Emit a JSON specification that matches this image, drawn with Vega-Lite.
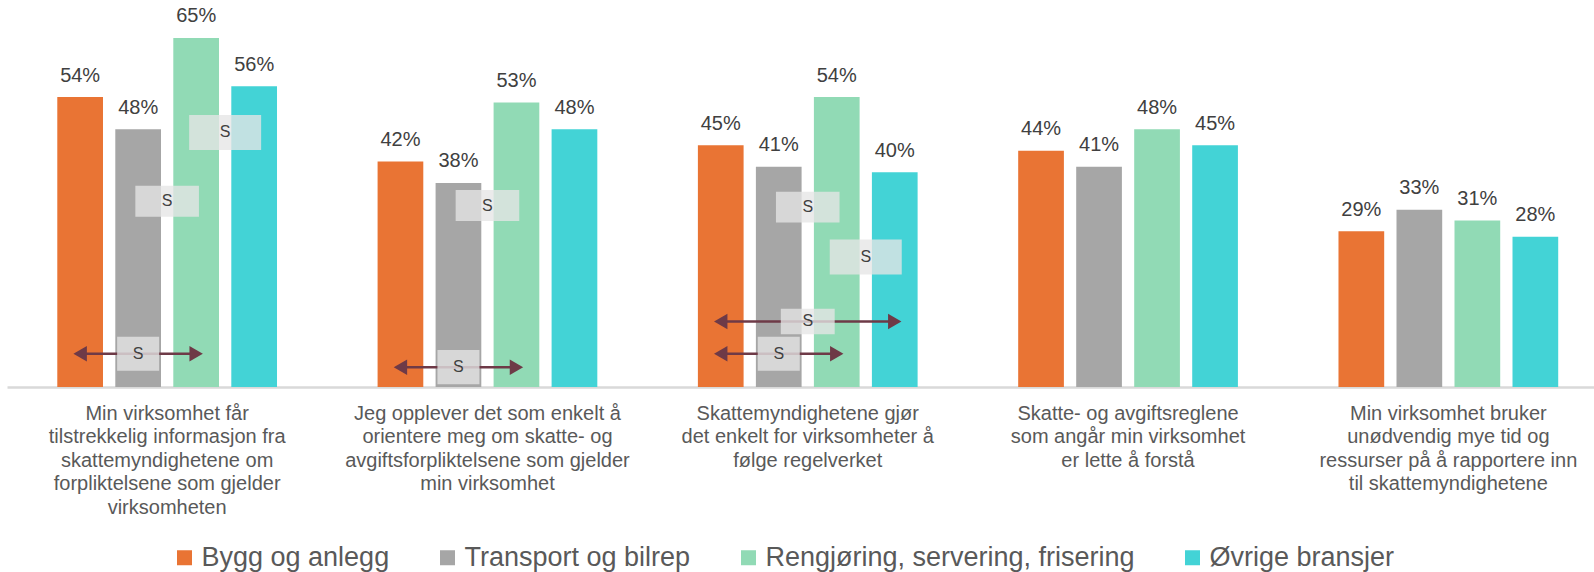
{
  "$schema": "https://vega.github.io/schema/vega-lite/v6.json",
  "autosize": {"type": "none"},
  "width": 1587,
  "height": 387,
  "padding": {"left": 7, "top": 0, "right": 0, "bottom": 185},
  "background": "white",
  "config": {
    "view": {"stroke": null},
    "font": "Liberation Sans",
    "text": {"font": "Liberation Sans"}
  },
  "datasets": {
    "bars": [
      {"q": "Min virksomhet får|tilstrekkelig informasjon fra|skattemyndighetene om|forpliktelsene som gjelder|virksomheten", "series": "Bygg og anlegg", "value": 0.54},
      {"q": "Min virksomhet får|tilstrekkelig informasjon fra|skattemyndighetene om|forpliktelsene som gjelder|virksomheten", "series": "Transport og bilrep", "value": 0.48},
      {"q": "Min virksomhet får|tilstrekkelig informasjon fra|skattemyndighetene om|forpliktelsene som gjelder|virksomheten", "series": "Rengjøring, servering, frisering", "value": 0.65},
      {"q": "Min virksomhet får|tilstrekkelig informasjon fra|skattemyndighetene om|forpliktelsene som gjelder|virksomheten", "series": "Øvrige bransjer", "value": 0.56},
      {"q": "Jeg opplever det som enkelt å|orientere meg om skatte- og|avgiftsforpliktelsene som gjelder|min virksomhet", "series": "Bygg og anlegg", "value": 0.42},
      {"q": "Jeg opplever det som enkelt å|orientere meg om skatte- og|avgiftsforpliktelsene som gjelder|min virksomhet", "series": "Transport og bilrep", "value": 0.38},
      {"q": "Jeg opplever det som enkelt å|orientere meg om skatte- og|avgiftsforpliktelsene som gjelder|min virksomhet", "series": "Rengjøring, servering, frisering", "value": 0.53},
      {"q": "Jeg opplever det som enkelt å|orientere meg om skatte- og|avgiftsforpliktelsene som gjelder|min virksomhet", "series": "Øvrige bransjer", "value": 0.48},
      {"q": "Skattemyndighetene gjør|det enkelt for virksomheter å|følge regelverket", "series": "Bygg og anlegg", "value": 0.45},
      {"q": "Skattemyndighetene gjør|det enkelt for virksomheter å|følge regelverket", "series": "Transport og bilrep", "value": 0.41},
      {"q": "Skattemyndighetene gjør|det enkelt for virksomheter å|følge regelverket", "series": "Rengjøring, servering, frisering", "value": 0.54},
      {"q": "Skattemyndighetene gjør|det enkelt for virksomheter å|følge regelverket", "series": "Øvrige bransjer", "value": 0.40},
      {"q": "Skatte- og avgiftsreglene|som angår min virksomhet|er lette å forstå", "series": "Bygg og anlegg", "value": 0.44},
      {"q": "Skatte- og avgiftsreglene|som angår min virksomhet|er lette å forstå", "series": "Transport og bilrep", "value": 0.41},
      {"q": "Skatte- og avgiftsreglene|som angår min virksomhet|er lette å forstå", "series": "Rengjøring, servering, frisering", "value": 0.48},
      {"q": "Skatte- og avgiftsreglene|som angår min virksomhet|er lette å forstå", "series": "Øvrige bransjer", "value": 0.45},
      {"q": "Min virksomhet bruker|unødvendig mye tid og|ressurser på å rapportere inn|til skattemyndighetene", "series": "Bygg og anlegg", "value": 0.29},
      {"q": "Min virksomhet bruker|unødvendig mye tid og|ressurser på å rapportere inn|til skattemyndighetene", "series": "Transport og bilrep", "value": 0.33},
      {"q": "Min virksomhet bruker|unødvendig mye tid og|ressurser på å rapportere inn|til skattemyndighetene", "series": "Rengjøring, servering, frisering", "value": 0.31},
      {"q": "Min virksomhet bruker|unødvendig mye tid og|ressurser på å rapportere inn|til skattemyndighetene", "series": "Øvrige bransjer", "value": 0.28}
    ],
    "arrows": [
      {"q": "Min virksomhet får|tilstrekkelig informasjon fra|skattemyndighetene om|forpliktelsene som gjelder|virksomheten", "id": "a1", "slot": "Bygg og anlegg", "y": 0.062, "end": "left"},
      {"q": "Min virksomhet får|tilstrekkelig informasjon fra|skattemyndighetene om|forpliktelsene som gjelder|virksomheten", "id": "a1", "slot": "Rengjøring, servering, frisering", "y": 0.062, "end": "right"},
      {"q": "Jeg opplever det som enkelt å|orientere meg om skatte- og|avgiftsforpliktelsene som gjelder|min virksomhet", "id": "a2", "slot": "Bygg og anlegg", "y": 0.037, "end": "left"},
      {"q": "Jeg opplever det som enkelt å|orientere meg om skatte- og|avgiftsforpliktelsene som gjelder|min virksomhet", "id": "a2", "slot": "Rengjøring, servering, frisering", "y": 0.037, "end": "right"},
      {"q": "Skattemyndighetene gjør|det enkelt for virksomheter å|følge regelverket", "id": "a3", "slot": "Bygg og anlegg", "y": 0.122, "end": "left"},
      {"q": "Skattemyndighetene gjør|det enkelt for virksomheter å|følge regelverket", "id": "a3", "slot": "Øvrige bransjer", "y": 0.122, "end": "right"},
      {"q": "Skattemyndighetene gjør|det enkelt for virksomheter å|følge regelverket", "id": "a4", "slot": "Bygg og anlegg", "y": 0.062, "end": "left"},
      {"q": "Skattemyndighetene gjør|det enkelt for virksomheter å|følge regelverket", "id": "a4", "slot": "Rengjøring, servering, frisering", "y": 0.062, "end": "right"}
    ],
    "boxes": [
      {"q": "Min virksomhet får|tilstrekkelig informasjon fra|skattemyndighetene om|forpliktelsene som gjelder|virksomheten", "slot": "Transport og bilrep | Rengjøring, servering, frisering", "y": 0.346, "comparison": "Transport–Rengjøring"},
      {"q": "Min virksomhet får|tilstrekkelig informasjon fra|skattemyndighetene om|forpliktelsene som gjelder|virksomheten", "slot": "Rengjøring, servering, frisering | Øvrige bransjer", "y": 0.474, "comparison": "Rengjøring–Øvrige"},
      {"q": "Min virksomhet får|tilstrekkelig informasjon fra|skattemyndighetene om|forpliktelsene som gjelder|virksomheten", "slot": "Transport og bilrep", "y": 0.062, "comparison": "Bygg–Rengjøring"},
      {"q": "Jeg opplever det som enkelt å|orientere meg om skatte- og|avgiftsforpliktelsene som gjelder|min virksomhet", "slot": "Transport og bilrep | Rengjøring, servering, frisering", "y": 0.338, "comparison": "Transport–Rengjøring"},
      {"q": "Jeg opplever det som enkelt å|orientere meg om skatte- og|avgiftsforpliktelsene som gjelder|min virksomhet", "slot": "Transport og bilrep", "y": 0.037, "comparison": "Bygg–Rengjøring"},
      {"q": "Skattemyndighetene gjør|det enkelt for virksomheter å|følge regelverket", "slot": "Transport og bilrep | Rengjøring, servering, frisering", "y": 0.335, "comparison": "Transport–Rengjøring"},
      {"q": "Skattemyndighetene gjør|det enkelt for virksomheter å|følge regelverket", "slot": "Rengjøring, servering, frisering | Øvrige bransjer", "y": 0.242, "comparison": "Rengjøring–Øvrige"},
      {"q": "Skattemyndighetene gjør|det enkelt for virksomheter å|følge regelverket", "slot": "Transport og bilrep | Rengjøring, servering, frisering", "y": 0.122, "comparison": "Bygg–Øvrige"},
      {"q": "Skattemyndighetene gjør|det enkelt for virksomheter å|følge regelverket", "slot": "Transport og bilrep", "y": 0.062, "comparison": "Bygg–Rengjøring"}
    ]
  },
  "encoding": {
    "x": {
      "field": "q",
      "type": "nominal",
      "title": null,
      "scale": {
        "domain": [
          "Min virksomhet får|tilstrekkelig informasjon fra|skattemyndighetene om|forpliktelsene som gjelder|virksomheten",
          "Jeg opplever det som enkelt å|orientere meg om skatte- og|avgiftsforpliktelsene som gjelder|min virksomhet",
          "Skattemyndighetene gjør|det enkelt for virksomheter å|følge regelverket",
          "Skatte- og avgiftsreglene|som angår min virksomhet|er lette å forstå",
          "Min virksomhet bruker|unødvendig mye tid og|ressurser på å rapportere inn|til skattemyndighetene"
        ],
        "range": [0, 1601.5],
        "paddingInner": 0.314,
        "paddingOuter": 0.157
      },
      "axis": {
        "labelExpr": "split(datum.label, '|')",
        "labelFontSize": 20,
        "labelFont": "Liberation Sans",
        "labelColor": "#595959",
        "labelLineHeight": 23.4,
        "labelAngle": 0,
        "labelAlign": "center",
        "labelBaseline": "top",
        "labelPadding": 16.5,
        "labelLimit": 0,
        "ticks": false,
        "tickSize": 0,
        "domainColor": "#D9D9D9",
        "domainWidth": 2.3,
        "grid": false
      }
    },
    "y": {
      "field": "value",
      "type": "quantitative",
      "scale": {"domain": [0, 0.7207], "nice": false, "zero": true},
      "axis": null
    }
  },
  "layer": [
    {
      "data": {"name": "bars"},
      "mark": {"type": "bar"},
      "encoding": {
        "xOffset": {
          "field": "series",
          "type": "nominal",
          "scale": {
            "domain": ["Bygg og anlegg", "Transport og bilrep", "Rengjøring, servering, frisering", "Øvrige bransjer"],
            "paddingInner": 0.212,
            "paddingOuter": 0
          }
        },
        "color": {
          "field": "series",
          "type": "nominal",
          "scale": {
            "domain": ["Bygg og anlegg", "Transport og bilrep", "Rengjøring, servering, frisering", "Øvrige bransjer"],
            "range": ["#E97434", "#A6A6A6", "#91DAB5", "#43D3D6"]
          },
          "legend": {
            "title": null,
            "orient": "none",
            "direction": "horizontal",
            "legendX": 164,
            "legendY": 544,
            "labelFontSize": 27,
            "labelFont": "Liberation Sans",
            "labelColor": "#595959",
            "labelOffset": 3.5,
            "labelLimit": 1000,
            "columnPadding": 44,
            "symbolType": "square",
            "symbolSize": 225,
            "symbolStrokeWidth": 0,
            "symbolOpacity": 1
          }
        }
      }
    },
    {
      "data": {"name": "bars"},
      "mark": {"type": "text", "fontSize": 20, "color": "#404040", "baseline": "alphabetic", "align": "center", "dy": -15.5, "font": "Liberation Sans"},
      "encoding": {
        "xOffset": {
          "field": "series",
          "type": "nominal",
          "scale": {
            "type": "point",
            "domain": ["Bygg og anlegg", "Transport og bilrep", "Rengjøring, servering, frisering", "Øvrige bransjer"],
            "padding": 0.394
          }
        },
        "text": {"field": "value", "type": "quantitative", "format": ".0%"}
      }
    },
    {
      "data": {"name": "arrows"},
      "mark": {"type": "line", "color": "#6E3A47", "strokeWidth": 2.5},
      "encoding": {
        "xOffset": {
          "field": "slot",
          "type": "nominal",
          "scale": {
            "type": "point",
            "domain": ["Bygg og anlegg", "Bygg og anlegg | Transport og bilrep", "Transport og bilrep", "Transport og bilrep | Rengjøring, servering, frisering", "Rengjøring, servering, frisering", "Rengjøring, servering, frisering | Øvrige bransjer", "Øvrige bransjer"],
            "padding": 0.788
          }
        },
        "y": {"field": "y", "type": "quantitative"},
        "detail": {"field": "id", "type": "nominal"}
      }
    },
    {
      "data": {"name": "arrows"},
      "mark": {"type": "point", "filled": true, "color": "#6E3A47", "opacity": 1, "size": 240},
      "encoding": {
        "xOffset": {
          "field": "slot",
          "type": "nominal",
          "scale": {
            "type": "point",
            "domain": ["Bygg og anlegg", "Bygg og anlegg | Transport og bilrep", "Transport og bilrep", "Transport og bilrep | Rengjøring, servering, frisering", "Rengjøring, servering, frisering", "Rengjøring, servering, frisering | Øvrige bransjer", "Øvrige bransjer"],
            "padding": 0.788
          }
        },
        "y": {"field": "y", "type": "quantitative"},
        "shape": {
          "field": "end",
          "type": "nominal",
          "scale": {"domain": ["left", "right"], "range": ["triangle-left", "triangle-right"]},
          "legend": null
        }
      }
    },
    {
      "data": {"name": "boxes"},
      "mark": {"type": "point", "filled": true, "color": "#E5E5E5", "opacity": 0.78, "strokeWidth": 0},
      "encoding": {
        "xOffset": {
          "field": "slot",
          "type": "nominal",
          "scale": {
            "type": "point",
            "domain": ["Bygg og anlegg", "Bygg og anlegg | Transport og bilrep", "Transport og bilrep", "Transport og bilrep | Rengjøring, servering, frisering", "Rengjøring, servering, frisering", "Rengjøring, servering, frisering | Øvrige bransjer", "Øvrige bransjer"],
            "padding": 0.788
          }
        },
        "y": {"field": "y", "type": "quantitative"},
        "shape": {
          "field": "comparison",
          "type": "nominal",
          "scale": {
            "domain": ["Bygg–Rengjøring", "Bygg–Øvrige", "Transport–Rengjøring", "Rengjøring–Øvrige"],
            "range": ["M-1,-0.81H1V0.81H-1Z", "M-1,-0.472H1V0.472H-1Z", "M-1,-0.486H1V0.486H-1Z", "M-1,-0.486H1V0.486H-1Z"]
          },
          "legend": null
        },
        "size": {
          "field": "comparison",
          "type": "nominal",
          "scale": {
            "domain": ["Bygg–Rengjøring", "Bygg–Øvrige", "Transport–Rengjøring", "Rengjøring–Øvrige"],
            "range": [1764, 5184, 4900, 4900]
          },
          "legend": null
        }
      }
    },
    {
      "data": {"name": "boxes"},
      "mark": {"type": "text", "text": "S", "fontSize": 16, "color": "#404040", "baseline": "middle", "align": "center", "font": "Liberation Sans"},
      "encoding": {
        "xOffset": {
          "field": "slot",
          "type": "nominal",
          "scale": {
            "type": "point",
            "domain": ["Bygg og anlegg", "Bygg og anlegg | Transport og bilrep", "Transport og bilrep", "Transport og bilrep | Rengjøring, servering, frisering", "Rengjøring, servering, frisering", "Rengjøring, servering, frisering | Øvrige bransjer", "Øvrige bransjer"],
            "padding": 0.788
          }
        },
        "y": {"field": "y", "type": "quantitative"}
      }
    }
  ],
  "resolve": {"scale": {"xOffset": "independent", "shape": "independent", "size": "independent"}}
}
